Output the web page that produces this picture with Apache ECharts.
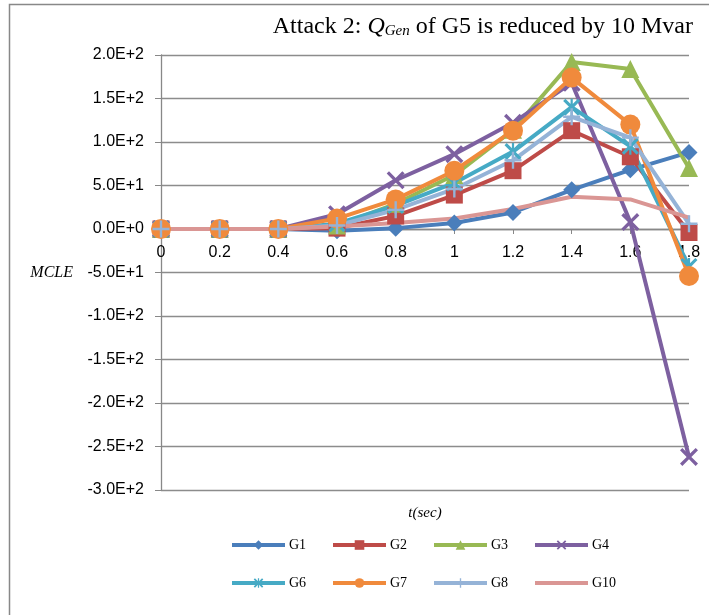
<!DOCTYPE html>
<html>
<head>
<meta charset="utf-8">
<script src="https://cdn.jsdelivr.net/npm/echarts@6/dist/echarts.min.js"></script>
<style>
html,body{margin:0;padding:0;background:#fff;}
#c{width:709px;height:615px;}
</style>
</head>
<body>
<div id="c"></div>
<script>
const categories = ['0','0.2','0.4','0.6','0.8','1','1.2','1.4','1.6','1.8'];
const G1  = [0, 0, 0, -2, 1, 7, 19, 45, 68, 88];
const G2  = [0, 0, 0, 1, 15, 39, 67, 113, 83, -4];
const G3  = [0, 0, 0, 4, 29, 62, 114, 192, 184, 70];
const G4  = [0, 0, 0, 17, 56, 86, 122, 168, 8, -262];
const G6  = [0, 0, 0, 6, 27, 53, 89, 140, 95, -43];
const G7  = [0, 0, 0, 12, 34, 67, 113, 174, 120, -54];
const G8  = [0, 0, 0, 4, 22, 46, 79, 129, 105, 6];
const G10 = [0, 0, 0, 3, 7, 12, 23, 37, 34, 13];
const seriesNames = ['G1','G2','G3','G4','G6','G7','G8','G10'];
const yTicks = [-300,-250,-200,-150,-100,-50,0,50,100,150,200];

const colors = ['#4A7EBB','#BE4B48','#98B954','#7D60A0','#46AAC5','#F08A3C','#95B3D7','#DA9694'];
const xPath = 'path://M0,1.3L1.3,0L5,3.7L8.7,0L10,1.3L6.3,5L10,8.7L8.7,10L5,6.3L1.3,10L0,8.7L3.7,5Z';
const starPath = 'path://M0,1.3L1.3,0L5,3.7L8.7,0L10,1.3L6.3,5L10,8.7L8.7,10L5,6.3L1.3,10L0,8.7L3.7,5Z M4.35,0L5.65,0L5.65,10L4.35,10Z';
const plusPath = 'path://M4.3,0L5.7,0L5.7,4.3L10,4.3L10,5.7L5.7,5.7L5.7,10L4.3,10L4.3,5.7L0,5.7L0,4.3L4.3,4.3Z';
const symbols = ['diamond','rect','triangle',xPath,starPath,'circle',plusPath,'none'];
const sizes = [17,17,18,18,17,20,17,0];
const dataArr = [G1,G2,G3,G4,G6,G7,G8,G10];

const chart = echarts.init(document.getElementById('c'), null, {renderer:'canvas'});

const series = seriesNames.map((n,i)=>({
  name:n, type:'line', data:dataArr[i],
  symbol:symbols[i], symbolSize:sizes[i], symbolKeepAspect:true,
  showSymbol: symbols[i] !== 'none',
  lineStyle:{width:4, color:colors[i]},
  itemStyle:{color:colors[i]},
  emphasis:{disabled:true},
  animation:false
}));

const legendCols = [230,331,432,533];
const legendRows = [538,576];
const legends = seriesNames.map((n,i)=>({
  data:[symbols[i] === 'none' ? {name:n, itemStyle:{opacity:0}} : n],
  left: legendCols[i%4],
  top: legendRows[Math.floor(i/4)],
  padding:0,
  itemWidth:53, itemHeight:12, itemGap:0,
  lineStyle:{width:4},
  textStyle:{fontFamily:'Liberation Serif', fontSize:14, color:'#000', padding:[0,0,0,-1]},
  selectedMode:false
}));

const option = {
  animation:false,
  backgroundColor:'#fff',
  color:colors,
  title:{
    text:'Attack 2: {i|Q}{s|Gen} of G5 is reduced by 10 Mvar',
    right:11, top:9,
    textStyle:{
      fontFamily:'Liberation Serif', fontSize:24, fontWeight:'normal', color:'#000',
      rich:{
        i:{fontFamily:'Liberation Serif', fontSize:24, fontStyle:'italic', color:'#000'},
        s:{fontFamily:'Liberation Serif', fontSize:15, fontStyle:'italic', color:'#000', verticalAlign:'bottom', padding:[10,0,0,0]}
      }
    }
  },
  legend:legends,
  grid:{left:161, right:20, top:55, bottom:125, containLabel:false, outerBoundsMode:'none'},
  xAxis:{
    type:'category', data:categories, boundaryGap:false,
    position:'bottom', offset:0,
    name:'t(sec)', nameLocation:'middle', nameGap:277,
    nameTextStyle:{fontFamily:'Liberation Serif', fontStyle:'italic', fontSize:15, color:'#000'},
    axisLine:{onZero:true, lineStyle:{color:'#888', width:1.3}},
    axisTick:{show:true, alignWithLabel:true, length:5, lineStyle:{color:'#888'}, interval:0},
    axisLabel:{fontFamily:'Liberation Sans', fontSize:16, color:'#000', margin:16, interval:0},
    splitLine:{show:false}
  },
  yAxis:{
    type:'value', min:yTicks[0], max:yTicks[yTicks.length-1], interval:50,
    name:'MCLE', nameLocation:'middle', nameRotate:0, nameGap:88,
    nameTextStyle:{fontFamily:'Liberation Serif', fontStyle:'italic', fontSize:16, color:'#000', align:'right'},
    axisLine:{show:true, lineStyle:{color:'#888', width:1.3}},
    axisTick:{show:true, length:6, lineStyle:{color:'#888'}},
    axisLabel:{fontFamily:'Liberation Sans', fontSize:16, color:'#000', margin:17,
      formatter:v=>v.toExponential(1).toUpperCase()},
    splitLine:{show:true, lineStyle:{color:'#8c8c8c', width:1.3}}
  },
  graphic:[{
    type:'rect', shape:{x:9.5, y:4.5, width:720, height:640},
    style:{fill:'none', stroke:'#888', lineWidth:1.5}, silent:true, z:-1
  }],
  series:series
};
chart.setOption(option);

// place the category axis on the zero line of the value axis
const yZero = chart.convertToPixel({yAxisIndex:0}, 0);
const yBottom = chart.convertToPixel({yAxisIndex:0}, yTicks[0]);
const shift = yBottom - yZero;
if (shift > 1) {
  chart.setOption({xAxis:{offset:-shift, axisLine:{onZero:false}}});
}
</script>
</body>
</html>
